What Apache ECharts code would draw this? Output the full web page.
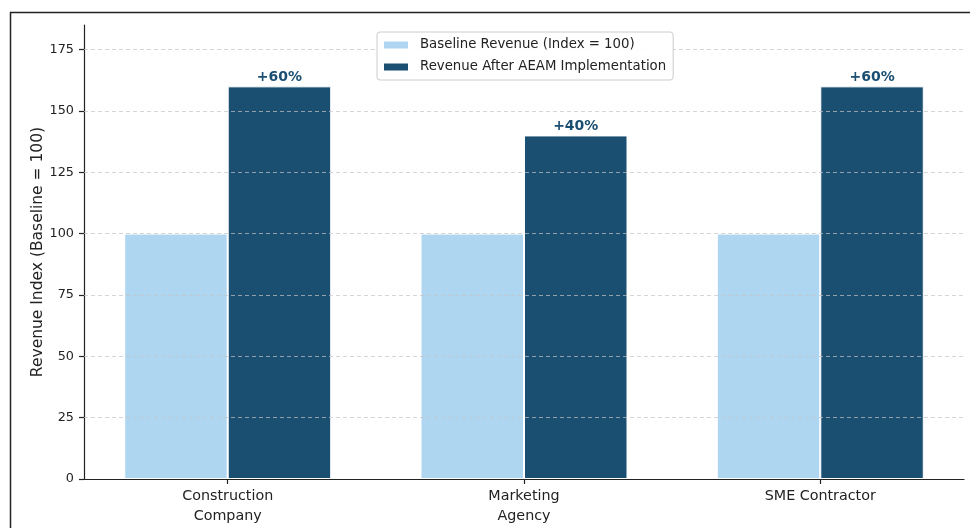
<!DOCTYPE html>
<html>
<head>
<meta charset="utf-8">
<script src="https://cdn.jsdelivr.net/npm/echarts@6/dist/echarts.min.js"></script>
<style>
  html, body { margin: 0; padding: 0; background: #fff; }
  #chart { width: 970px; height: 528px; }
</style>
</head>
<body>
<div id="chart"></div>
<script>
// Revenue index per client type, before and after AEAM rollout
const categories = ['Construction\nCompany', 'Marketing\nAgency', 'SME Contractor'];
const baselineValues = [100, 100, 100];
const afterValues = [160, 140, 160];
const yTickValues = [0, 25, 50, 75, 100, 125, 150, 175];
const seriesNames = ['Baseline Revenue (Index = 100)', 'Revenue After AEAM Implementation'];

const FONT = 'DejaVu Sans';
const LIGHT = '#AED6F1';
const DARK = '#1B4F72';

const positions = categories.map((c, i) => i);

const chart = echarts.init(document.getElementById('chart'), null, { renderer: 'canvas' });

chart.setOption({
  backgroundColor: '#ffffff',
  animation: false,
  textStyle: { fontFamily: FONT },
  grid: { left: 84, right: 6, top: 25, bottom: 49, containLabel: false },
  legend: {
    orient: 'vertical',
    left: 377,
    top: 32,
    padding: [5, 7, 5, 5],
    itemGap: 6,
    itemWidth: 26,
    itemHeight: 9,
    z: 20,
    backgroundColor: 'rgba(255,255,255,0.9)',
    borderColor: '#cccccc',
    borderWidth: 1,
    borderRadius: 3,
    icon: 'rect',
    textStyle: { fontFamily: FONT, fontSize: 13.3, color: '#222', lineHeight: 16, padding: [0, 0, 0, 6] },
    data: seriesNames
  },
  xAxis: {
    type: 'value',
    min: -0.485,
    max: 2.485,
    z: 5,
    axisLine: { show: true, onZero: false, lineStyle: { color: '#222', width: 1.2 } },
    axisTick: { show: true, length: 5, lineStyle: { color: '#222', width: 1.2 }, customValues: positions },
    splitLine: { show: false },
    axisLabel: {
      customValues: positions,
      margin: 7,
      fontFamily: FONT,
      fontSize: 14.3,
      lineHeight: 20,
      color: '#222',
      formatter: v => categories[Math.round(v)] || ''
    }
  },
  yAxis: {
    type: 'value',
    min: 0,
    max: 185,
    interval: 25,
    z: 5,
    name: 'Revenue Index (Baseline = 100)',
    nameLocation: 'middle',
    nameGap: 38,
    nameMoveOverlap: false,
    nameTextStyle: { fontFamily: FONT, fontSize: 15.5, color: '#222' },
    axisLine: { show: true, onZero: false, lineStyle: { color: '#222', width: 1.2 } },
    axisTick: { show: true, length: 5, lineStyle: { color: '#222', width: 1.2 }, customValues: yTickValues },
    axisLabel: {
      customValues: yTickValues,
      margin: 10,
      fontFamily: FONT,
      fontSize: 12.8,
      color: '#222'
    },
    splitLine: { show: false }
  },
  series: [
    {
      name: seriesNames[0],
      type: 'bar',
      barWidth: 103.5,
      barGap: '0%',
      itemStyle: { color: LIGHT, borderColor: '#ffffff', borderWidth: 1 },
      data: positions.map(i => [i, baselineValues[i]])
    },
    {
      name: seriesNames[1],
      type: 'bar',
      barWidth: 103.5,
      barGap: '0%',
      itemStyle: { color: DARK, borderColor: '#ffffff', borderWidth: 1 },
      label: {
        show: true,
        position: 'top',
        distance: 2,
        fontFamily: FONT,
        fontWeight: 'bold',
        fontSize: 14,
        color: DARK,
        formatter: p => {
          const i = p.dataIndex;
          const pct = Math.round((afterValues[i] - baselineValues[i]) / baselineValues[i] * 100);
          return '+' + pct + '%';
        }
      },
      // dashed horizontal grid drawn over the bars
      markLine: {
        silent: true,
        symbol: 'none',
        z: 10,
        label: { show: false },
        emphasis: { disabled: true },
        lineStyle: { color: '#c4c4c4', opacity: 0.7, type: [4, 3], width: 1 },
        data: yTickValues.filter(v => v > 0).map(v => ({ yAxis: v }))
      },
      data: positions.map(i => [i, afterValues[i]])
    }
  ],
  graphic: [
    {
      type: 'rect',
      silent: true,
      z: 100,
      shape: { x: 10.5, y: 12.5, width: 1000, height: 600 },
      style: { fill: 'none', stroke: '#222', lineWidth: 1.5 }
    }
  ]
});
</script>
</body>
</html>
